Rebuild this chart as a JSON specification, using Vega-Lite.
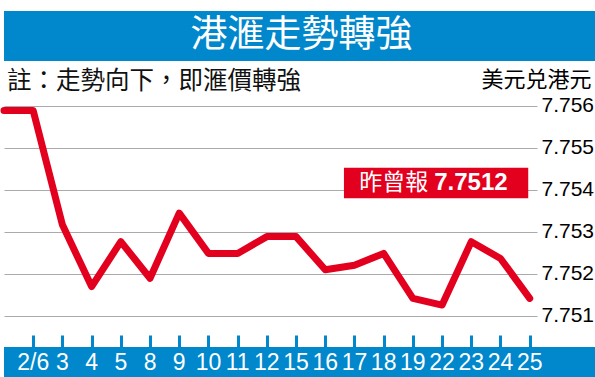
{
  "$schema": "https://vega.github.io/schema/vega-lite/v6.json",
  "padding": {"top": 11, "left": 0, "right": 0, "bottom": 0},
  "background": "white",
  "spacing": 0,
  "config": {"view": {"stroke": null}, "concat": {"spacing": 0}},
  "datasets": {
    "fx": [
      {"i": -1, "d": "", "v": 7.75589},
      {"i": 0, "d": "2/6", "v": 7.75589},
      {"i": 1, "d": "3", "v": 7.75317},
      {"i": 2, "d": "4", "v": 7.7517},
      {"i": 3, "d": "5", "v": 7.75277},
      {"i": 4, "d": "8", "v": 7.7519},
      {"i": 5, "d": "9", "v": 7.75345},
      {"i": 6, "d": "10", "v": 7.75249},
      {"i": 7, "d": "11", "v": 7.75249},
      {"i": 8, "d": "12", "v": 7.75289},
      {"i": 9, "d": "15", "v": 7.75289},
      {"i": 10, "d": "16", "v": 7.7521},
      {"i": 11, "d": "17", "v": 7.75221},
      {"i": 12, "d": "18", "v": 7.75249},
      {"i": 13, "d": "19", "v": 7.75142},
      {"i": 14, "d": "22", "v": 7.75126},
      {"i": 15, "d": "23", "v": 7.75277},
      {"i": 16, "d": "24", "v": 7.75237},
      {"i": 17, "d": "25", "v": 7.75142}
    ]
  },
  "vconcat": [
    {
      "width": 595,
      "height": 50,
      "view": {"fill": "#0087cc", "stroke": null},
      "data": {"values": [{"t": "港滙走勢轉強"}]},
      "mark": {"type": "text", "color": "white", "font": "Noto Sans CJK TC", "fontSize": 37, "baseline": "middle", "align": "center"},
      "encoding": {"text": {"field": "t"}}
    },
    {
      "width": 533,
      "height": 272,
      "layer": [
        {
          "data": {"name": "fx"},
          "mark": {"type": "line", "color": "#e3001f", "strokeWidth": 7, "strokeCap": "round", "strokeJoin": "round"},
          "encoding": {
            "x": {"field": "i", "type": "quantitative", "scale": {"domain": [-1, 17.25], "nice": false, "zero": false}, "axis": null},
            "y": {
              "field": "v", "type": "quantitative",
              "scale": {"domain": [7.7505952, 7.7570714], "nice": false, "zero": false},
              "axis": {
                "orient": "right", "values": [7.751, 7.752, 7.753, 7.754, 7.755, 7.756], "format": ".3f",
                "grid": true, "gridColor": "#aaaaaa", "gridWidth": 1.2, "ticks": false, "domain": false,
                "labelFont": "Liberation Sans", "labelFontSize": 21, "labelColor": "#000000", "labelPadding": 4,
                "labelBaseline": "middle", "labelOverlap": false,
                "title": "美元兑港元", "titleAngle": 0, "titleAlign": "right", "titleBaseline": "middle",
                "titleX": 54, "titleY": 18, "titleFont": "Noto Sans CJK TC", "titleFontSize": 22,
                "titleFontWeight": "normal", "titleColor": "#000000"
              }
            }
          }
        },
        {
          "data": {"values": [{"t": "註：走勢向下，即滙價轉強"}]},
          "mark": {"type": "text", "align": "left", "baseline": "middle", "font": "Noto Sans CJK TC", "fontSize": 24.5, "color": "#111111"},
          "encoding": {"x": {"datum": -0.9}, "y": {"datum": 7.756571}, "text": {"field": "t"}}
        },
        {
          "data": {"values": [{"t": "box"}]},
          "mark": {"type": "rect", "color": "#e3001f"},
          "encoding": {"x": {"datum": 10.64}, "x2": {"datum": 16.95}, "y": {"datum": 7.754531}, "y2": {"datum": 7.753802}}
        },
        {
          "data": {"values": [{"t": "昨曾報"}]},
          "mark": {"type": "text", "align": "left", "baseline": "middle", "font": "Noto Sans CJK TC", "fontSize": 23, "color": "white"},
          "encoding": {"x": {"datum": 11.16}, "y": {"datum": 7.754167}, "text": {"field": "t"}}
        },
        {
          "data": {"values": [{"t": "7.7512"}]},
          "mark": {"type": "text", "align": "left", "baseline": "middle", "font": "Liberation Sans", "fontWeight": "bold", "fontSize": 24, "color": "white"},
          "encoding": {"x": {"datum": 13.73}, "y": {"datum": 7.754167}, "text": {"field": "t"}}
        }
      ]
    },
    {
      "width": 595,
      "height": 32,
      "view": {"fill": "#0087cc", "stroke": null},
      "data": {"name": "fx"},
      "transform": [{"filter": "datum.i >= 0"}],
      "mark": {"type": "text", "color": "white", "font": "Liberation Sans Narrow, Liberation Sans, Arial, sans-serif", "fontSize": 23, "baseline": "middle"},
      "encoding": {
        "x": {
          "field": "i", "type": "quantitative",
          "scale": {"domain": [-1, 19.373], "nice": false, "zero": false},
          "axis": {
            "orient": "top", "values": [0, 1, 2, 3, 4, 5, 6, 7, 8, 9, 10, 11, 12, 13, 14, 15, 16, 17],
            "labels": false, "domain": false, "grid": false, "ticks": true, "tickColor": "#0087cc",
            "tickWidth": 3, "tickSize": 12, "title": null, "minExtent": 12, "maxExtent": 12
          }
        },
        "text": {"field": "d"}
      }
    }
  ]
}
